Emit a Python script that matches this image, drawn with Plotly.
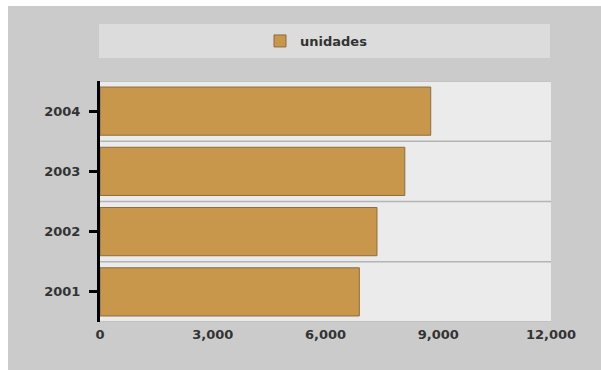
import plotly.graph_objects as go

# Units per year
years = ["2001", "2002", "2003", "2004"]
unidades = [6900, 7370, 8110, 8800]
x_ticks = [0, 3000, 6000, 9000, 12000]

W, H = 601, 370
L, R, T, B = 100, 50, 81, 48
plot_w = W - L - R
plot_h = H - T - B


def px_x(p):
    return (p - L) / plot_w


def px_y(p):
    return (H - B - p) / plot_h


label_font = dict(family="DejaVu Sans", size=13, color="#333333", weight="bold")

fig = go.Figure()
fig.add_trace(go.Bar(
    x=unidades,
    y=years,
    orientation="h",
    name="unidades",
    width=0.8,
    marker=dict(color="#c9974b", line=dict(color="#8c6d3f", width=1)),
    showlegend=True,
))

shapes = [
    # white margin strips along the top and left edges
    dict(type="rect", xref="paper", yref="paper", layer="below",
         x0=px_x(-5), x1=px_x(W + 5), y0=px_y(6), y1=px_y(-5),
         fillcolor="white", line=dict(width=0)),
    dict(type="rect", xref="paper", yref="paper", layer="below",
         x0=px_x(-5), x1=px_x(8), y0=px_y(H + 5), y1=px_y(-5),
         fillcolor="white", line=dict(width=0)),
    # legend strip
    dict(type="rect", xref="paper", yref="paper", layer="below",
         x0=px_x(99), x1=px_x(550), y0=px_y(58), y1=px_y(24),
         fillcolor="#dcdcdc", line=dict(width=0)),
]
# separators between category bands
for i in range(len(years) + 1):
    shapes.append(dict(type="line", xref="paper", yref="y", layer="below",
                       x0=0, x1=1, y0=i - 0.5, y1=i - 0.5,
                       line=dict(color="#b4b4b4", width=1.5)))

fig.update_layout(
    width=W, height=H,
    margin=dict(l=L, r=R, t=T, b=B),
    paper_bgcolor="#cbcbcb",
    plot_bgcolor="#ebebeb",
    shapes=shapes,
    bargap=0.2,
    showlegend=True,
    legend=dict(
        orientation="h",
        x=px_x(260), xanchor="left",
        y=px_y(41), yanchor="middle",
        bgcolor="rgba(0,0,0,0)",
        font=label_font,
    ),
    xaxis=dict(
        range=[0, 12000],
        tickvals=x_ticks,
        tickformat=",",
        showgrid=False,
        zeroline=False,
        showline=False,
        ticks="",
        ticklabelstandoff=3,
        tickfont=label_font,
    ),
    yaxis=dict(
        type="category",
        categoryarray=years,
        range=[-0.5, len(years) - 0.5],
        showgrid=False,
        showline=True,
        linecolor="black",
        linewidth=3,
        ticks="outside",
        ticklen=8,
        tickwidth=3,
        tickcolor="black",
        ticklabelstandoff=6,
        tickfont=label_font,
    ),
)

fig.write_html("out.html")
